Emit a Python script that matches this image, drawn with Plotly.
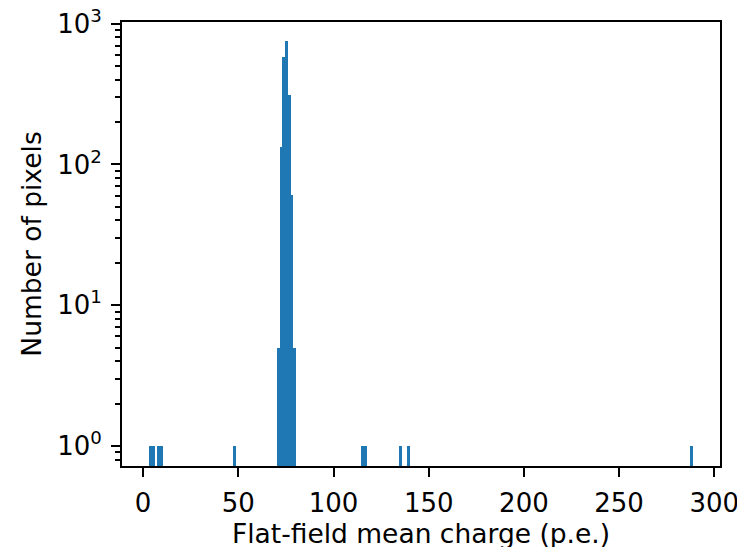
import plotly.graph_objects as go

# Histogram data (bin centers in p.e., counts per bin)
bin_width = 1.4275
charge_centers = [3.91, 5.34, 8.20, 9.62, 48.17,
                  71.01, 72.43, 73.86, 75.29, 76.72, 78.15, 79.57,
                  115.26, 116.68, 135.25, 139.52, 287.99]
pixel_counts = [1, 1, 1, 1, 1,
                5, 133, 580, 750, 310, 61, 5,
                1, 1, 1, 1, 1]

x_tick_vals = [0, 50, 100, 150, 200, 250, 300]
y_tick_vals = [1, 10, 100, 1000]
y_tick_text = ["10<sup>0</sup>", "10<sup>1</sup>", "10<sup>2</sup>", "10<sup>3</sup>"]
y_minor_vals = [0.8, 0.9] + [m * d for d in (1, 10, 100) for m in range(2, 10)]

fig = go.Figure(go.Bar(
    x=charge_centers, y=pixel_counts, width=bin_width,
    marker=dict(color="#1f77b4", line=dict(width=0)),
))

title_font = dict(family="DejaVu Sans", size=26.5, color="black")
tick_font = dict(family="DejaVu Sans", size=26, color="black")
# page body has an 8px offset; margins compensate so the plot area lands at
# x 122..720, y 22..466 of the window
fig.update_layout(
    width=745, height=547,
    margin=dict(l=114, r=33, t=14, b=89),
    paper_bgcolor="white", plot_bgcolor="white",
    font=tick_font, showlegend=False, bargap=0,
)
fig.update_xaxes(
    range=[-11.1, 303], tickvals=x_tick_vals,
    ticks="outside", ticklen=9, tickwidth=2, tickcolor="black",
    ticklabelstandoff=4, ticklabeloverflow="allow",
    showline=True, linecolor="black", linewidth=2, mirror=True,
    showgrid=False, zeroline=False, automargin=False,
    title=dict(text="Flat-field mean charge (p.e.)", standoff=2, font=title_font),
    tickfont=tick_font,
)
fig.update_yaxes(
    type="log", range=[-0.142, 3.012],
    tickvals=y_tick_vals, ticktext=y_tick_text,
    ticks="outside", ticklen=9, tickwidth=2, tickcolor="black",
    ticklabelstandoff=4, ticklabeloverflow="allow",
    minor=dict(tickvals=y_minor_vals, ticks="outside", ticklen=5, tickwidth=1.5, tickcolor="black", showgrid=False),
    showline=True, linecolor="black", linewidth=2, mirror=True,
    showgrid=False, zeroline=False, automargin=False,
    title=dict(text="Number of pixels", standoff=8, font=title_font),
    tickfont=tick_font,
)

fig.write_html("out.html")
